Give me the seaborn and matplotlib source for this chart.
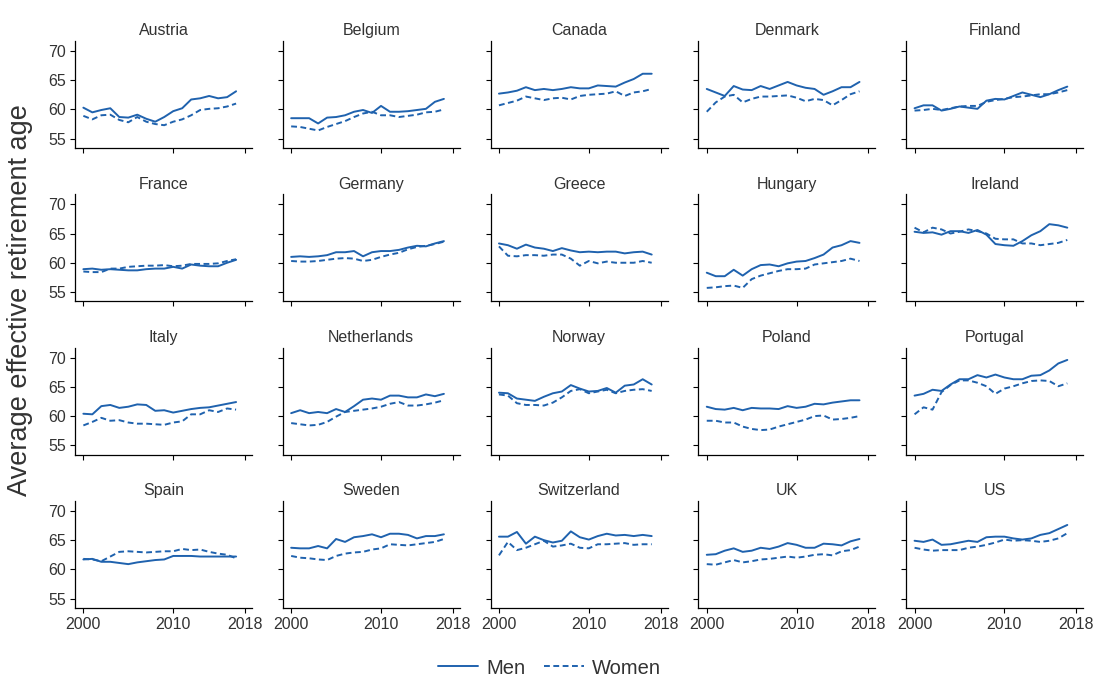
import numpy as np
import pandas as pd
import seaborn as sns
import matplotlib.pyplot as plt
from matplotlib.lines import Line2D

YEARS = list(range(2000, 2018))
COUNTRIES = ["Austria", "Belgium", "Canada", "Denmark", "Finland",
             "France", "Germany", "Greece", "Hungary", "Ireland",
             "Italy", "Netherlands", "Norway", "Poland", "Portugal",
             "Spain", "Sweden", "Switzerland", "UK", "US"]
SEXES = ["Men", "Women"]

austria_men = [60.3, 59.5, 59.9, 60.2, 58.7, 58.6, 59.1, 58.4, 57.9, 58.7, 59.7, 60.2, 61.7, 61.9, 62.3, 61.9, 62.1, 63.1]
austria_women = [58.9, 58.3, 59.0, 59.1, 58.2, 57.8, 58.7, 57.9, 57.5, 57.3, 57.9, 58.3, 59.0, 59.9, 60.1, 60.2, 60.5, 61.0]
belgium_men = [58.5, 58.5, 58.5, 57.6, 58.6, 58.7, 59.0, 59.6, 59.9, 59.4, 60.6, 59.6, 59.6, 59.7, 59.9, 60.1, 61.3, 61.8]
belgium_women = [57.1, 57.0, 56.7, 56.4, 57.0, 57.5, 58.0, 58.7, 59.3, 59.6, 59.0, 59.0, 58.7, 58.9, 59.1, 59.5, 59.6, 60.0]
canada_men = [62.7, 62.9, 63.2, 63.8, 63.3, 63.5, 63.3, 63.5, 63.8, 63.6, 63.6, 64.1, 64.0, 63.9, 64.6, 65.2, 66.1, 66.1]
canada_women = [60.7, 61.1, 61.5, 62.2, 61.9, 61.6, 61.9, 62.0, 61.7, 62.3, 62.5, 62.6, 62.7, 63.1, 62.3, 62.9, 63.1, 63.5]
denmark_men = [63.5, 62.9, 62.3, 64.0, 63.4, 63.3, 64.0, 63.5, 64.1, 64.7, 64.1, 63.7, 63.5, 62.5, 63.1, 63.8, 63.8, 64.7]
denmark_women = [59.6, 61.2, 62.2, 62.5, 61.2, 61.8, 62.2, 62.2, 62.3, 62.4, 62.0, 61.4, 61.8, 61.6, 60.7, 61.6, 62.6, 63.1]
finland_men = [60.2, 60.7, 60.7, 59.8, 60.1, 60.5, 60.3, 60.1, 61.5, 61.8, 61.7, 62.3, 62.9, 62.5, 62.1, 62.6, 63.3, 63.9]
finland_women = [59.8, 59.9, 60.1, 59.9, 60.2, 60.5, 60.6, 60.6, 61.3, 61.6, 61.8, 62.1, 62.2, 62.4, 62.6, 62.6, 62.9, 63.3]
france_men = [58.9, 59.0, 58.8, 58.9, 58.8, 58.7, 58.7, 58.9, 59.0, 59.0, 59.3, 59.0, 59.7, 59.5, 59.4, 59.4, 60.0, 60.5]
france_women = [58.5, 58.4, 58.4, 59.0, 59.0, 59.3, 59.4, 59.5, 59.5, 59.6, 59.4, 59.5, 59.8, 59.8, 59.8, 59.9, 60.3, 60.6]
germany_men = [61.0, 61.1, 61.0, 61.1, 61.3, 61.8, 61.8, 62.0, 61.1, 61.8, 62.0, 62.0, 62.2, 62.6, 62.9, 62.8, 63.3, 63.7]
germany_women = [60.3, 60.2, 60.2, 60.3, 60.5, 60.7, 60.8, 60.7, 60.3, 60.5, 61.0, 61.4, 61.7, 62.3, 62.7, 62.9, 63.2, 63.6]
greece_men = [63.3, 63.0, 62.4, 63.1, 62.6, 62.4, 62.0, 62.5, 62.1, 61.8, 61.9, 61.8, 61.9, 61.9, 61.6, 61.8, 61.9, 61.4]
greece_women = [62.8, 61.2, 61.1, 61.3, 61.3, 61.2, 61.4, 61.4, 60.7, 59.5, 60.3, 59.9, 60.2, 60.0, 60.0, 60.0, 60.3, 60.0]
hungary_men = [58.3, 57.7, 57.7, 58.8, 57.8, 58.9, 59.6, 59.7, 59.4, 59.9, 60.2, 60.3, 60.8, 61.4, 62.6, 63.0, 63.7, 63.4]
hungary_women = [55.7, 55.8, 56.0, 56.1, 55.7, 57.2, 57.8, 58.2, 58.6, 58.9, 58.9, 59.0, 59.7, 59.9, 60.1, 60.3, 60.7, 60.3]
ireland_men = [65.3, 65.1, 65.2, 64.8, 65.4, 65.4, 65.1, 65.6, 64.8, 63.2, 63.0, 62.9, 63.7, 64.7, 65.4, 66.6, 66.4, 66.0]
ireland_women = [66.0, 65.2, 66.0, 65.7, 65.0, 65.3, 65.7, 65.4, 65.0, 64.1, 64.0, 64.0, 63.3, 63.3, 63.0, 63.2, 63.4, 63.9]
italy_men = [60.4, 60.3, 61.7, 61.9, 61.4, 61.6, 62.0, 61.9, 60.9, 61.0, 60.6, 60.9, 61.2, 61.4, 61.5, 61.8, 62.1, 62.4]
italy_women = [58.4, 59.0, 59.7, 59.2, 59.3, 58.9, 58.7, 58.7, 58.6, 58.5, 58.9, 59.1, 60.3, 60.3, 61.0, 60.7, 61.3, 61.1]
netherlands_men = [60.5, 61.0, 60.5, 60.7, 60.5, 61.2, 60.7, 61.7, 62.8, 63.0, 62.8, 63.5, 63.5, 63.2, 63.2, 63.7, 63.4, 63.8]
netherlands_women = [58.8, 58.6, 58.4, 58.5, 59.0, 59.9, 60.7, 60.9, 61.1, 61.3, 61.6, 62.1, 62.4, 61.8, 61.8, 62.0, 62.3, 62.7]
norway_men = [64.0, 63.9, 63.0, 62.8, 62.6, 63.3, 63.9, 64.2, 65.3, 64.7, 64.2, 64.3, 64.8, 64.0, 65.2, 65.4, 66.3, 65.4]
norway_women = [63.7, 63.5, 62.2, 61.9, 61.9, 61.8, 62.3, 63.2, 64.3, 64.6, 63.9, 64.2, 64.5, 63.9, 64.3, 64.5, 64.6, 64.3]
poland_men = [61.6, 61.2, 61.1, 61.4, 61.0, 61.4, 61.3, 61.3, 61.2, 61.7, 61.4, 61.6, 62.1, 62.0, 62.3, 62.5, 62.7, 62.7]
poland_women = [59.2, 59.2, 58.9, 58.9, 58.2, 57.8, 57.6, 57.7, 58.2, 58.6, 59.0, 59.4, 60.0, 60.1, 59.4, 59.5, 59.7, 60.0]
portugal_men = [63.5, 63.8, 64.5, 64.3, 65.4, 66.3, 66.3, 67.0, 66.6, 67.1, 66.6, 66.3, 66.3, 66.9, 67.0, 67.8, 69.0, 69.6]
portugal_women = [60.3, 61.5, 61.1, 64.1, 65.3, 66.1, 66.1, 65.7, 65.1, 63.8, 64.7, 65.1, 65.6, 66.0, 66.1, 66.0, 65.1, 65.6]
spain_men = [61.7, 61.8, 61.3, 61.3, 61.1, 60.9, 61.2, 61.4, 61.6, 61.7, 62.3, 62.3, 62.3, 62.2, 62.2, 62.2, 62.2, 62.2]
spain_women = [61.8, 61.7, 61.4, 62.2, 63.0, 63.1, 63.0, 62.9, 63.0, 63.1, 63.1, 63.5, 63.3, 63.4, 63.0, 62.7, 62.5, 61.9]
sweden_men = [63.7, 63.6, 63.6, 64.0, 63.6, 65.2, 64.7, 65.5, 65.7, 66.0, 65.5, 66.1, 66.1, 65.9, 65.3, 65.7, 65.7, 66.0]
sweden_women = [62.3, 62.0, 61.9, 61.7, 61.6, 62.3, 62.7, 62.9, 63.0, 63.4, 63.6, 64.3, 64.2, 64.1, 64.3, 64.5, 64.7, 65.2]
switzerland_men = [65.6, 65.6, 66.4, 64.4, 65.6, 65.0, 64.6, 64.9, 66.5, 65.5, 65.1, 65.7, 66.1, 65.8, 65.9, 65.7, 65.9, 65.7]
switzerland_women = [62.4, 64.7, 63.3, 63.7, 64.3, 64.9, 63.9, 64.1, 64.4, 63.7, 63.6, 64.3, 64.3, 64.4, 64.5, 64.2, 64.3, 64.3]
uk_men = [62.5, 62.6, 63.2, 63.6, 63.0, 63.2, 63.7, 63.5, 63.9, 64.5, 64.2, 63.7, 63.7, 64.4, 64.3, 64.1, 64.8, 65.2]
uk_women = [60.9, 60.8, 61.2, 61.6, 61.2, 61.4, 61.7, 61.8, 62.0, 62.2, 62.0, 62.2, 62.5, 62.6, 62.4, 63.1, 63.3, 63.9]
us_men = [64.9, 64.7, 65.1, 64.2, 64.3, 64.6, 64.9, 64.7, 65.5, 65.6, 65.6, 65.3, 65.1, 65.3, 65.9, 66.2, 66.9, 67.6]
us_women = [63.7, 63.4, 63.2, 63.3, 63.3, 63.3, 63.7, 63.9, 64.2, 64.6, 65.1, 64.9, 65.0, 64.9, 64.7, 64.9, 65.3, 66.2]

MEN = [austria_men, belgium_men, canada_men, denmark_men, finland_men,
       france_men, germany_men, greece_men, hungary_men, ireland_men,
       italy_men, netherlands_men, norway_men, poland_men, portugal_men,
       spain_men, sweden_men, switzerland_men, uk_men, us_men]
WOMEN = [austria_women, belgium_women, canada_women, denmark_women, finland_women,
         france_women, germany_women, greece_women, hungary_women, ireland_women,
         italy_women, netherlands_women, norway_women, poland_women, portugal_women,
         spain_women, sweden_women, switzerland_women, uk_women, us_women]

BLUE = "#1f62ae"
DASH = (3.0, 1.8)

# long-format table: one row per country / year / sex
records = []
for country, men, women in zip(COUNTRIES, MEN, WOMEN):
    for yr, m, w in zip(YEARS, men, women):
        records.append((country, yr, "Men", m))
        records.append((country, yr, "Women", w))
df = pd.DataFrame(records, columns=["country", "year", "sex", "age"])

sns.set_style("ticks")
plt.rcParams["font.family"] = ["Liberation Sans", "DejaVu Sans"]
plt.rcParams.update({
    "axes.edgecolor": "black",
    "axes.linewidth": 0.9,
    "xtick.color": "black",
    "ytick.color": "black",
    "xtick.labelcolor": "#333333",
    "ytick.labelcolor": "#333333",
    "xtick.major.size": 3.6,
    "ytick.major.size": 3.6,
    "xtick.major.width": 0.8,
    "ytick.major.width": 0.8,
    "xtick.major.pad": 3.0,
    "ytick.major.pad": 3.0,
    "xtick.labelsize": 11.5,
    "ytick.labelsize": 11.5,
})

g = sns.relplot(
    data=df, kind="line", x="year", y="age",
    col="country", col_order=COUNTRIES, col_wrap=5,
    style="sex", style_order=SEXES, dashes=["", DASH],
    color=BLUE, linewidth=1.4, legend=False,
    height=1.5, aspect=1.6,
    facet_kws=dict(sharex=True, sharey=True, despine=True),
)

fig = g.figure
fig.set_size_inches(10.99, 6.79)
W, H = 1099.0, 679.0
ax_w, ax_h = 177.0, 107.0
pitch_x, pitch_y = 207.8, 153.3
fig.subplots_adjust(
    left=75 / W, right=(75 + 4 * pitch_x + ax_w) / W,
    top=1 - 41 / H, bottom=1 - 608 / H,
    wspace=(pitch_x - ax_w) / ax_w, hspace=(pitch_y - ax_h) / ax_h,
)

g.set(xlim=(1999.07, 2018.77), ylim=(53.4, 71.7),
      xticks=[2000, 2010, 2018], yticks=[55, 60, 65, 70])
g.set_axis_labels("", "")
g.set_titles("{col_name}", size=11.5, color="#333333", pad=4)

fig.text(20 / W, 1 - 300 / H, "Average effective retirement age",
         rotation=90, ha="center", va="center", fontsize=19.5, color="#333333")

handles = [Line2D([], [], color=BLUE, lw=1.4),
           Line2D([], [], color=BLUE, lw=1.4, dashes=DASH)]
fig.legend(handles, SEXES, loc="center", bbox_to_anchor=(0.5, 1 - 668 / H),
           ncol=2, frameon=False, fontsize=14.5, handlelength=2.0,
           handletextpad=0.4, columnspacing=0.9, labelcolor="#333333",
           borderpad=0.1)

fig.savefig("out.png", dpi=100)
